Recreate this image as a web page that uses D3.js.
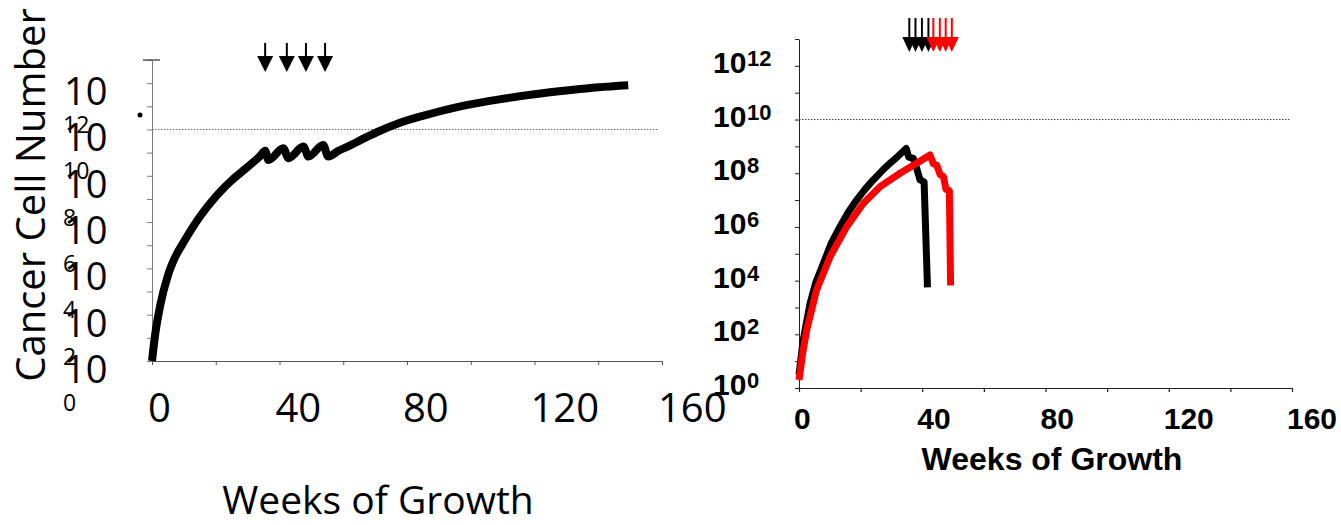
<!DOCTYPE html>
<html><head><meta charset="utf-8">
<script src="https://cdn.jsdelivr.net/npm/d3@7"></script>
<style>body{margin:0;background:#fff}svg{display:block}</style>
</head><body>
<svg id="c" width="1341" height="525"></svg>
<script>
// ---------- data ----------
const weekLabels = [0, 40, 80, 120, 160];
const weekTickValues = [0, 20, 40, 60, 80, 100, 120, 140, 160];
const expLabels = [0, 2, 4, 6, 8, 10, 12];
const expTickValues = [0,1,2,3,4,5,6,7,8,9,10,11,12,13];
const thresholdExp = 10;

// left panel (log10 cancer cell number)
const leftWeeks = [0, 1, 2.5, 5, 7.5, 10, 15, 20, 22, 25, 28, 31, 33.9, 35.5, 36.5, 41.2, 42.8, 47.5, 49.1, 53.7, 55.3, 58.5, 62, 66, 70.5, 78, 88, 99, 109, 120, 130, 140, 149.4];
const leftLog   = [0, 1.15, 2.35, 3.7, 4.55, 5.15, 6.23, 7.1, 7.4, 7.8, 8.15, 8.5, 8.85, 9.08, 8.68, 9.19, 8.76, 9.26, 8.83, 9.33, 8.83, 9.08, 9.3, 9.58, 9.88, 10.3, 10.7, 11.06, 11.3, 11.52, 11.68, 11.82, 11.91];
const leftArrowWeeks = [35.5, 42.3, 48.3, 54.3];

// right panel
const blackWeeks = [0, 1.4, 3.6, 5.5, 7.9, 10.5, 13.3, 16, 18.7, 21.4, 24.1, 26.8, 29.5, 32.1, 34.8, 35.6, 37.1, 38.2, 39.3, 40.6, 41.7];
const blackLog   = [0.5, 1.8, 3.15, 3.95, 4.64, 5.4, 6.01, 6.55, 7.0, 7.4, 7.75, 8.07, 8.37, 8.63, 8.92, 8.6, 8.55, 8.18, 7.75, 7.68, 3.75];
const redWeeks = [0, 1.2, 2.5, 5.7, 10.1, 15.5, 20.9, 26.3, 32.8, 38.2, 42.5, 43.6, 44.7, 45.8, 46.9, 47.7, 48.8, 49.2];
const redLog   = [0.3, 1.3, 2.16, 3.65, 4.89, 6.01, 6.88, 7.5, 8.0, 8.37, 8.68, 8.35, 8.3, 7.95, 7.87, 7.4, 7.35, 3.82];
const blackArrowWeeks = [35.8, 37.8, 39.9, 42.0];
const redArrowWeeks = [43.6, 45.7, 47.6, 49.6];

// ---------- drawing ----------
const svg = d3.select('#c');
const LF = "'Open Sans', sans-serif";
const RF = "'Liberation Sans', Arial, sans-serif";

function pts(ws, ls){ return ws.map((w,i)=>[w, Math.pow(10, ls[i])]); }

// ===== LEFT PANEL =====
const xL = d3.scaleLinear().domain([0,160]).range([152,662]);
const yL = d3.scaleLog().domain([1,1e13]).range([361,60]);
const gL = svg.append('g');

const axL = gL.append('g').attr('transform','translate(152,0)')
  .call(d3.axisLeft(yL).tickValues(expTickValues.map(e=>Math.pow(10,e))).tickSize(5).tickSizeOuter(0).tickFormat(''));
axL.selectAll('path,line').attr('stroke','#7a7a7a').attr('stroke-width',1);
gL.append('line').attr('x1',143).attr('x2',160).attr('y1',yL(1e13)).attr('y2',yL(1e13)).attr('stroke','#555').attr('stroke-width',1.5);
const axLx = gL.append('g').attr('transform','translate(0,361)')
  .call(d3.axisBottom(xL).tickValues(weekTickValues).tickSize(4).tickSizeOuter(0).tickFormat(''));
axLx.selectAll('path,line').attr('stroke','#555').attr('stroke-width',1);

gL.append('line').attr('x1',xL(0)).attr('x2',658).attr('y1',yL(Math.pow(10,thresholdExp))).attr('y2',yL(Math.pow(10,thresholdExp)))
  .attr('stroke','#666').attr('stroke-width',1).attr('stroke-dasharray','1.5,1.5');

gL.append('path').datum(pts(leftWeeks,leftLog))
  .attr('d', d3.line().x(d=>xL(d[0])).y(d=>yL(d[1])).curve(d3.curveMonotoneX))
  .attr('fill','none').attr('stroke','#000').attr('stroke-width',8).attr('stroke-linejoin','round');

leftArrowWeeks.forEach(w=>{
  const x = xL(w);
  gL.append('line').attr('x1',x).attr('x2',x).attr('y1',43).attr('y2',58).attr('stroke','#000').attr('stroke-width',2);
  gL.append('path').attr('d',`M${x-8},56L${x+8},56L${x},72Z`).attr('fill','#000');
});

expLabels.forEach(e=>{
  const y = yL(Math.pow(10,e));
  gL.append('text').attr('x',64).attr('y',y+22).attr('font-family',LF).attr('font-size',38).attr('fill','#000').text('10');
  gL.append('text').attr('x',63).attr('y',y+50).attr('font-family',LF).attr('font-size',23).attr('fill','#000').text(String(e));
});
weekLabels.forEach(v=>{
  gL.append('text').attr('x',xL(v)-4).attr('y',422).attr('font-family',LF).attr('font-size',40).attr('fill','#000').text(String(v));
});
gL.append('circle').attr('cx',140).attr('cy',115).attr('r',2.5).attr('fill','#000');
gL.append('text').attr('transform','translate(45,195) rotate(-90)').attr('text-anchor','middle')
  .attr('font-family',LF).attr('font-size',40).attr('fill','#000').text('Cancer Cell Number');
gL.append('text').attr('x',378).attr('y',514).attr('text-anchor','middle')
  .attr('font-family',LF).attr('font-size',39).attr('fill','#000').text('Weeks of Growth');

// ===== RIGHT PANEL =====
const xR = d3.scaleLinear().domain([0,160]).range([799,1292]);
const yR = d3.scaleLog().domain([1,1e13]).range([388,39]);
const gR = svg.append('g');

const axR = gR.append('g').attr('transform','translate(799,0)')
  .call(d3.axisLeft(yR).tickValues(expTickValues.map(e=>Math.pow(10,e))).tickSize(4).tickSizeOuter(0).tickFormat(''));
axR.selectAll('path,line').attr('stroke','#222').attr('stroke-width',1);
const axRx = gR.append('g').attr('transform','translate(0,388)')
  .call(d3.axisBottom(xR).tickValues(weekTickValues).tickSize(4).tickSizeOuter(0).tickFormat(''));
axRx.selectAll('path,line').attr('stroke','#222').attr('stroke-width',1.2);

gR.append('line').attr('x1',xR(0)).attr('x2',1290).attr('y1',yR(Math.pow(10,thresholdExp))).attr('y2',yR(Math.pow(10,thresholdExp)))
  .attr('stroke','#444').attr('stroke-width',1).attr('stroke-dasharray','1.5,1.5');

const lineR = d3.line().x(d=>xR(d[0])).y(d=>yR(d[1]));
gR.append('path').datum(pts(blackWeeks,blackLog)).attr('d',lineR)
  .attr('fill','none').attr('stroke','#000').attr('stroke-width',7).attr('stroke-linejoin','round');
gR.append('path').datum(pts(redWeeks,redLog)).attr('d',lineR)
  .attr('fill','none').attr('stroke','#ff0000').attr('stroke-width',7).attr('stroke-linejoin','round');

function arrowsR(ws,col){
  ws.forEach(w=>{
    const x = xR(w);
    gR.append('line').attr('x1',x).attr('x2',x).attr('y1',18).attr('y2',38).attr('stroke',col).attr('stroke-width',2);
    gR.append('path').attr('d',`M${x-7},37L${x+7},37L${x},52Z`).attr('fill',col);
  });
}
arrowsR(blackArrowWeeks,'#000');
arrowsR(redArrowWeeks,'#ff0000');

expLabels.forEach(e=>{
  const y = yR(Math.pow(10,e));
  gR.append('text').attr('x',713).attr('y',y+7).attr('font-family',RF).attr('font-weight','bold').attr('font-size',30).attr('fill','#000').text('10');
  gR.append('text').attr('x',747).attr('y',y).attr('font-family',RF).attr('font-weight','bold').attr('font-size',22).attr('fill','#000').text(String(e));
});
weekLabels.forEach(v=>{
  gR.append('text').attr('x',xR(v)-5).attr('y',429).attr('font-family',RF).attr('font-weight','bold').attr('font-size',30).attr('fill','#000').text(String(v));
});
gR.append('text').attr('x',1052).attr('y',470).attr('text-anchor','middle')
  .attr('font-family',RF).attr('font-weight','bold').attr('font-size',32).attr('fill','#000').text('Weeks of Growth');
</script>
</body></html>
